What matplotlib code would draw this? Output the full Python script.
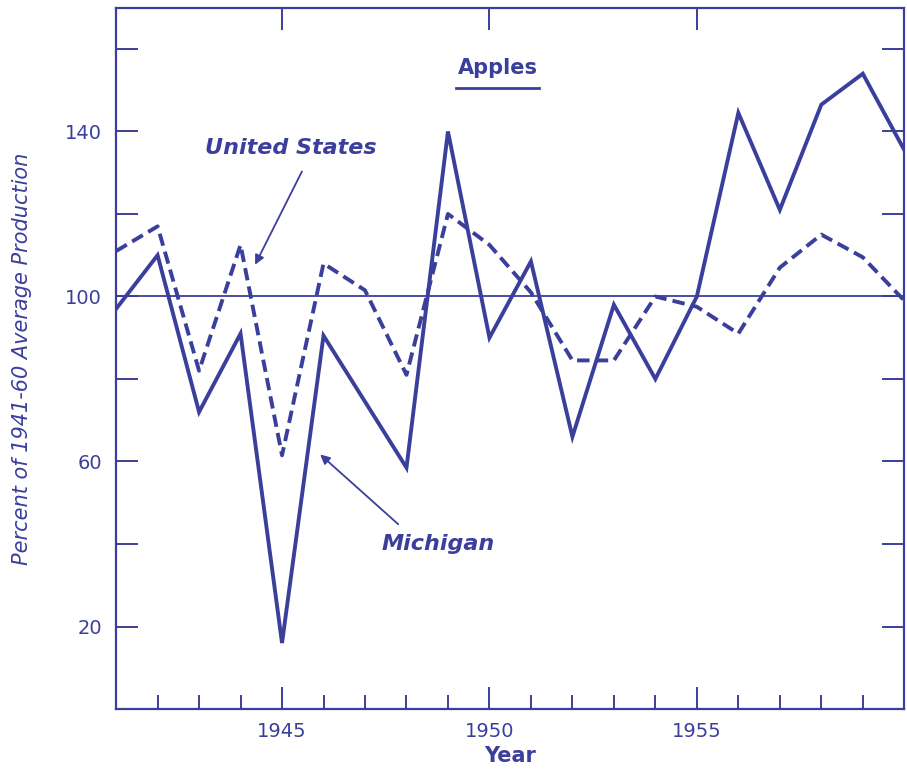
import numpy as np
import matplotlib.pyplot as plt
from matplotlib.ticker import MultipleLocator, FixedLocator

years = list(range(1941, 1961))
michigan = [97, 110, 72, 91, 16, 90.5, 74.5, 58.5, 140, 90, 108.5, 66, 98, 80, 100, 144.5, 121, 146.5, 154, 135.5]
united_states = [111, 117, 82, 112.5, 61.5, 108, 101.5, 81, 120, 112.5, 101, 84.5, 84.5, 100, 97.5, 91, 107, 115, 109.5, 99]
labelled_years = [1945, 1950, 1955]

ink = '#3b3f9c'

fig = plt.figure(figsize=(9.07, 7.69), dpi=100)
ax = fig.add_axes([0.128, 0.078, 0.869, 0.912])

# reference line at 100%
ax.axhline(100, color=ink, lw=1.3, zorder=1)

ax.plot(years, michigan, color=ink, lw=2.8, solid_joinstyle='miter', zorder=3)
ax.plot(years, united_states, color=ink, lw=2.8, ls=(0, (3.2, 1.6)), zorder=3)

ax.set_xlim(1941, 1960)
ax.set_ylim(0, 170)

for side in ax.spines.values():
    side.set_color(ink)
    side.set_linewidth(1.6)

ax.xaxis.set_major_locator(FixedLocator(labelled_years))
ax.xaxis.set_minor_locator(MultipleLocator(1))
ax.yaxis.set_major_locator(MultipleLocator(40, offset=20))
ax.yaxis.set_minor_locator(MultipleLocator(20))
ax.tick_params(axis='both', which='both', direction='in', color=ink, width=1.4,
               labelcolor=ink, labelsize=14)
ax.tick_params(axis='x', which='major', length=16, top=True, pad=9)
ax.tick_params(axis='x', which='minor', length=10, top=False)
ax.tick_params(axis='y', which='both', length=16, right=True, pad=10)

ax.set_xlabel('Year', color=ink, fontsize=15, fontweight='bold', labelpad=4)
ax.set_ylabel('Percent of 1941-60 Average Production', color=ink, fontsize=15,
              style='italic', labelpad=24)

ax.text(1950.2, 155.5, 'Apples', color=ink, fontsize=15, fontweight='bold',
        ha='center', va='center')
ax.plot([1949.2, 1951.2], [150.6, 150.6], color=ink, lw=2)

ax.text(1945.2, 136, 'United States', color=ink, fontsize=16, style='italic',
        fontweight='bold', ha='center', va='center')
ax.annotate('', xy=(1944.35, 107.7), xytext=(1945.48, 130.3),
            arrowprops=dict(arrowstyle='-|>', color=ink, lw=1.3,
                            mutation_scale=14, shrinkA=0, shrinkB=0))

ax.text(1948.76, 40, 'Michigan', color=ink, fontsize=16, style='italic',
        fontweight='bold', ha='center', va='center')
ax.annotate('', xy=(1945.92, 61.7), xytext=(1947.8, 44.8),
            arrowprops=dict(arrowstyle='-|>', color=ink, lw=1.3,
                            mutation_scale=14, shrinkA=0, shrinkB=0))

fig.savefig('out.png', dpi=100)
